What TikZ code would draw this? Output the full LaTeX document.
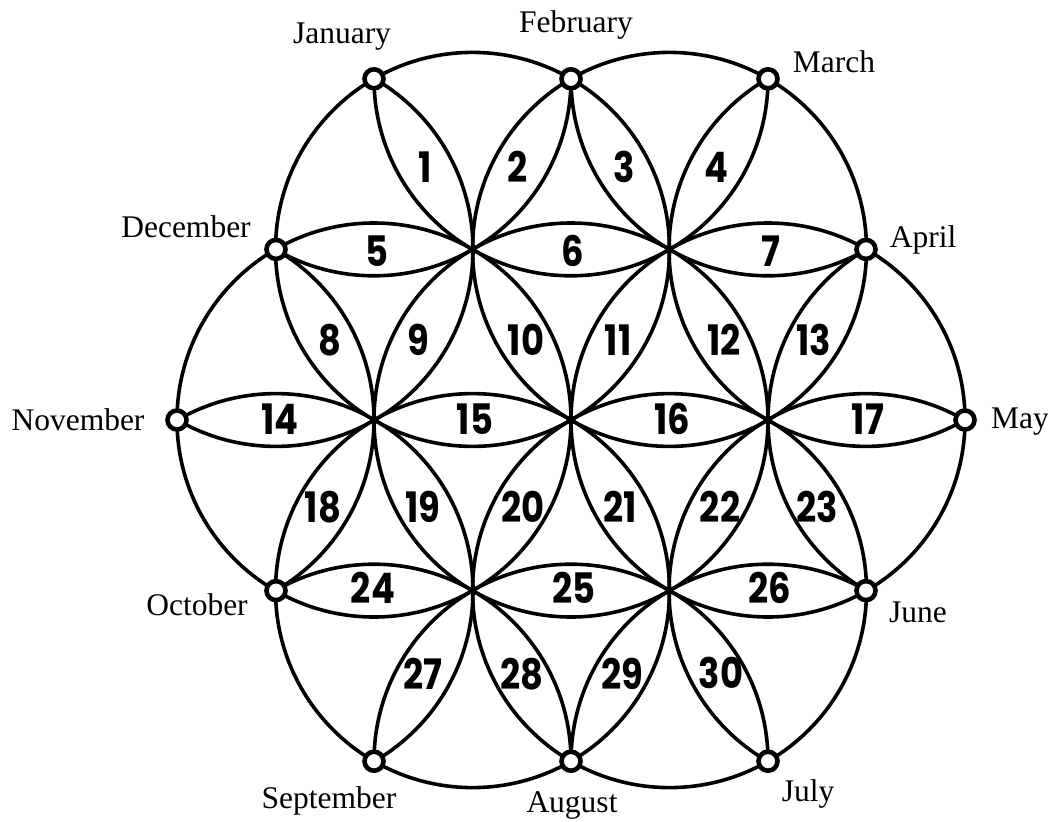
\documentclass[tikz,border=0pt]{standalone}
\usepackage{fontspec}
\setmainfont{Liberation Serif}
\newfontfamily\numfont{Poppins}[FakeStretch=0.84]
\begin{document}
\begin{tikzpicture}[x=1pt,y=-1pt,
  ring/.style={line width=3.6pt},
  knot/.style={circle, draw, fill=white, line width=4.6pt, inner sep=0pt, minimum size=19pt},
  mon/.style={font=\fontsize{31.5}{31.5}\selectfont, anchor=base, inner sep=0pt},
  num/.style={font=\numfont\bfseries\fontsize{42}{42}\selectfont, inner sep=0pt}]
\useasboundingbox (0,0) rectangle (1048,821);
% lattice
\coordinate (C) at (571,420);
\coordinate (I0) at (768,420);
\coordinate (I60) at (669.5,249.4);
\coordinate (I120) at (472.5,249.4);
\coordinate (I180) at (374,420);
\coordinate (I240) at (472.5,590.6);
\coordinate (I300) at (669.5,590.6);
\coordinate (Apr) at (866,249.4);
\coordinate (Feb) at (571,78.8);
\coordinate (Dec) at (276,249.4);
\coordinate (Oct) at (276,590.6);
\coordinate (Aug) at (571,761.2);
\coordinate (Jun) at (866,590.6);
\coordinate (May) at (965,420);
\coordinate (Mar) at (768,78.8);
\coordinate (Jan) at (374,78.8);
\coordinate (Nov) at (177,420);
\coordinate (Sep) at (374,761.2);
\coordinate (Jul) at (768,761.2);
% seed circles
\foreach \p in {C,I0,I60,I120,I180,I240,I300}
  \draw[ring] (\p) circle[radius=197pt];
% outer circles clipped to the union of the seed circles
\begin{scope}
  \clip (C) circle[radius=197pt] (I0) circle[radius=197pt] (I60) circle[radius=197pt]
        (I120) circle[radius=197pt] (I180) circle[radius=197pt] (I240) circle[radius=197pt]
        (I300) circle[radius=197pt];
  \foreach \p in {Apr,Feb,Dec,Oct,Aug,Jun,May,Mar,Jan,Nov,Sep,Jul}
    \draw[ring] (\p) circle[radius=197pt];
\end{scope}
% month knots
\foreach \p in {Apr,Feb,Dec,Oct,Aug,Jun,May,Mar,Jan,Nov,Sep,Jul}
  \node[knot] (k\p) at (\p) {};
% month labels
\node[mon] (lJan) at (342,44) {January};
\node[mon] (lFeb) at (576,33) {February};
\node[mon] (lMar) at (834,73) {March};
\node[mon] (lApr) at (923,247) {April};
\node[mon] (lMay) at (1020,428) {May};
\node[mon] (lJun) at (918,622) {June};
\node[mon] (lJul) at (808,801) {July};
\node[mon] (lAug) at (572,812) {August};
\node[mon] (lSep) at (329,808) {September};
\node[mon] (lOct) at (197,615) {October};
\node[mon] (lNov) at (78,430) {November};
\node[mon] (lDec) at (186,237) {December};
% petal numbers
\node[num] (n1) at (425,167) {1};
\node[num] (n2) at (518,167) {2};
\node[num] (n3) at (624,167) {3};
\node[num] (n4) at (716,167) {4};
\node[num] (n5) at (377,251) {5};
\node[num] (n6) at (573,251) {6};
\node[num] (n7) at (771,251) {7};
\node[num] (n8) at (330,340) {8};
\node[num] (n9) at (418,340) {9};
\node[num] (n10) at (526,340) {10};
\node[num] (n11) at (618,340) {11};
\node[num] (n12) at (724,340) {12};
\node[num] (n13) at (814,340) {13};
\node[num] (n14) at (280,419) {14};
\node[num] (n15) at (475,419) {15};
\node[num] (n16) at (672,419) {16};
\node[num] (n17) at (868,419) {17};
\node[num] (n18) at (323,507) {18};
\node[num] (n19) at (423,507) {19};
\node[num] (n20) at (523,507) {20};
\node[num] (n21) at (620,507) {21};
\node[num] (n22) at (720,507) {22};
\node[num] (n23) at (817,507) {23};
\node[num] (n24) at (373,588) {24};
\node[num] (n25) at (574,588) {25};
\node[num] (n26) at (770,588) {26};
\node[num] (n27) at (423,674) {27};
\node[num] (n28) at (522,674) {28};
\node[num] (n29) at (622,674) {29};
\node[num] (n30) at (721,673) {30};
\end{tikzpicture}
\end{document}
